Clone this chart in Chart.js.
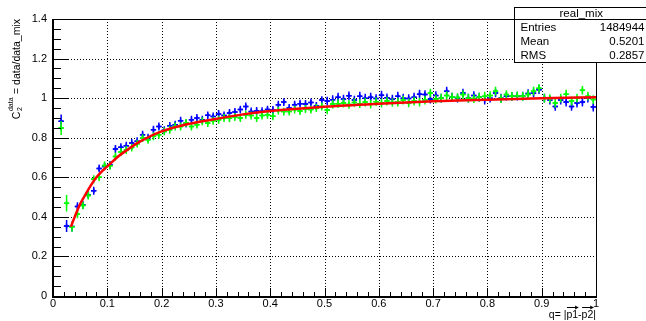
<!DOCTYPE html>
<html><head><meta charset="utf-8">
<script src="https://cdn.jsdelivr.net/npm/chart.js@4.4.1/dist/chart.umd.min.js"></script>
<style>html,body{margin:0;padding:0;background:#fff;overflow:hidden}canvas{display:block}</style>
</head><body><canvas id="c" width="646" height="321"></canvas>
<script>
// ---- data ----
const binCenters = [
  0.015,0.025,0.035,0.045,0.055,0.065,0.075,0.085,0.095,
  0.105,0.115,0.125,0.135,0.145,0.155,0.165,0.175,0.185,0.195,
  0.205,0.215,0.225,0.235,0.245,0.255,0.265,0.275,0.285,0.295,
  0.305,0.315,0.325,0.335,0.345,0.355,0.365,0.375,0.385,0.395,
  0.405,0.415,0.425,0.435,0.445,0.455,0.465,0.475,0.485,0.495,
  0.505,0.515,0.525,0.535,0.545,0.555,0.565,0.575,0.585,0.595,
  0.605,0.615,0.625,0.635,0.645,0.655,0.665,0.675,0.685,0.695,
  0.705,0.715,0.725,0.735,0.745,0.755,0.765,0.775,0.785,0.795,
  0.805,0.815,0.825,0.835,0.845,0.855,0.865,0.875,0.885,0.895,
  0.905,0.915,0.925,0.935,0.945,0.955,0.965,0.975,0.985,0.995];
const blueValues = [
  0.883,0.354,0.351,0.452,0.460,0.510,0.532,0.645,0.655,
  0.662,0.743,0.752,0.760,0.773,0.782,0.815,0.800,0.840,0.857,
  0.838,0.860,0.866,0.886,0.872,0.891,0.900,0.891,0.913,0.907,
  0.920,0.912,0.925,0.930,0.942,0.958,0.933,0.935,0.934,0.942,
  0.940,0.967,0.980,0.950,0.967,0.972,0.970,0.978,0.960,0.990,
  0.985,0.992,1.005,0.995,1.012,0.990,1.010,1.000,1.005,0.998,
  1.015,1.002,0.995,1.010,1.000,0.998,1.005,1.020,1.018,0.995,
  1.013,1.000,1.035,1.005,1.000,1.026,1.000,1.013,1.005,0.990,
  1.000,1.026,1.000,1.010,1.009,1.010,1.010,1.023,1.025,1.043,
  1.000,0.990,0.958,0.990,0.980,0.958,0.975,0.980,1.000,0.955];
const greenValues = [
  0.849,0.469,0.350,0.415,0.458,0.508,0.590,0.600,0.660,
  0.658,0.705,0.728,0.738,0.750,0.770,0.798,0.790,0.807,0.815,
  0.832,0.840,0.857,0.857,0.874,0.857,0.866,0.883,0.874,0.886,
  0.891,0.900,0.898,0.905,0.900,0.916,0.912,0.900,0.912,0.916,
  0.908,0.937,0.932,0.932,0.942,0.935,0.945,0.942,0.950,0.958,
  0.940,0.970,0.972,0.975,0.968,0.978,0.972,0.980,0.970,0.982,
  0.975,0.985,0.978,0.980,0.990,0.976,0.985,0.980,0.990,1.026,
  0.995,1.000,1.013,1.005,1.003,1.018,1.000,0.998,1.005,1.010,
  1.013,1.035,0.998,1.018,1.009,1.012,1.009,1.018,1.035,1.050,
  1.000,0.998,0.975,1.000,1.020,0.985,1.000,1.040,1.010,0.993];
const blueErrors = [
  0.034,0.030,0.025,0.022,0.020,0.020,0.020,0.020,0.020,
  0.020,0.020,0.020,0.020,0.020,0.020,0.020,0.020,0.020,0.020,
  0.020,0.020,0.020,0.020,0.020,0.020,0.020,0.020,0.020,0.020,
  0.020,0.020,0.020,0.020,0.020,0.020,0.020,0.020,0.020,0.020,
  0.020,0.020,0.020,0.020,0.020,0.020,0.020,0.020,0.020,0.020,
  0.022,0.022,0.022,0.022,0.022,0.022,0.022,0.022,0.022,0.022,
  0.022,0.022,0.022,0.022,0.022,0.022,0.022,0.022,0.022,0.022,
  0.022,0.022,0.022,0.022,0.022,0.022,0.022,0.022,0.022,0.022,
  0.022,0.022,0.022,0.022,0.022,0.022,0.022,0.022,0.022,0.022,
  0.022,0.022,0.022,0.022,0.022,0.022,0.022,0.022,0.022,0.022];
const greenErrors = [
  0.035,0.042,0.025,0.022,0.020,0.020,0.020,0.020,0.020,
  0.020,0.020,0.020,0.020,0.020,0.020,0.020,0.020,0.020,0.020,
  0.020,0.020,0.020,0.020,0.020,0.020,0.020,0.020,0.020,0.020,
  0.020,0.020,0.020,0.020,0.020,0.020,0.020,0.020,0.020,0.020,
  0.020,0.020,0.020,0.020,0.020,0.020,0.020,0.020,0.020,0.020,
  0.022,0.022,0.022,0.022,0.022,0.022,0.022,0.022,0.022,0.022,
  0.022,0.022,0.022,0.022,0.022,0.022,0.022,0.022,0.022,0.022,
  0.022,0.022,0.022,0.022,0.022,0.022,0.022,0.022,0.022,0.022,
  0.022,0.022,0.022,0.022,0.022,0.022,0.022,0.022,0.022,0.022,
  0.022,0.022,0.022,0.022,0.022,0.022,0.022,0.022,0.022,0.022];
const binHalfWidth = 0.005;
const fitQ   = [0.033,0.04,0.05,0.056,0.07,0.08,0.093,0.1,0.12,0.14,0.16,0.2,0.25,0.3,0.35,0.4,0.5,0.6,0.7,0.8,0.9,1.0];
const fitVal = [0.35,0.40,0.465,0.495,0.56,0.60,0.638,0.655,0.705,0.745,0.78,0.832,0.87,0.895,0.918,0.935,0.957,0.972,0.984,0.992,0.999,1.005];
const xTickValues = [0,0.1,0.2,0.3,0.4,0.5,0.6,0.7,0.8,0.9,1];
const xTickLabels = ['0','0.1','0.2','0.3','0.4','0.5','0.6','0.7','0.8','0.9','1'];
const yTickValues = [0,0.2,0.4,0.6,0.8,1.0,1.2,1.4];
const yTickLabels = ['0','0.2','0.4','0.6','0.8','1','1.2','1.4'];
const statsTitle = 'real_mix';
const statsRows = [['Entries','1484944'],['Mean','0.5201'],['RMS','0.2857']];

const FONT = '"Liberation Sans", Arial, Helvetica, sans-serif';

const rootPlugin = {
  id: 'rootStyle',
  beforeDatasetsDraw(chart) {
    const {ctx, chartArea: a, scales: {x, y}} = chart;
    ctx.save();
    ctx.strokeStyle = '#000';
    ctx.lineWidth = 1;
    ctx.setLineDash([1, 2]);
    xTickValues.forEach(v => {
      if (v <= x.min || v >= x.max) return;
      const px = Math.round(x.getPixelForValue(v)) + 0.5;
      ctx.beginPath(); ctx.moveTo(px, a.top); ctx.lineTo(px, a.bottom); ctx.stroke();
    });
    yTickValues.forEach(v => {
      if (v <= y.min || v >= y.max) return;
      const py = Math.round(y.getPixelForValue(v)) + 0.5;
      ctx.beginPath(); ctx.moveTo(a.left, py); ctx.lineTo(a.right, py); ctx.stroke();
    });
    ctx.restore();
  },
  afterDatasetDraw(chart, args) {
    const ds = chart.data.datasets[args.index];
    if (!ds.errors) return;
    const {ctx, chartArea: a, scales: {x, y}} = chart;
    ctx.save();
    ctx.beginPath(); ctx.rect(a.left, a.top, a.right - a.left, a.bottom - a.top); ctx.clip();
    ctx.strokeStyle = ds.borderColor;
    ctx.lineWidth = 1.5;
    ds.data.forEach((p, i) => {
      const e = ds.errors[i];
      const px = x.getPixelForValue(p.x), py = y.getPixelForValue(p.y);
      ctx.beginPath();
      ctx.moveTo(px, y.getPixelForValue(p.y - e)); ctx.lineTo(px, y.getPixelForValue(p.y + e));
      ctx.moveTo(x.getPixelForValue(p.x - binHalfWidth), py); ctx.lineTo(x.getPixelForValue(p.x + binHalfWidth), py);
      ctx.stroke();
    });
    ctx.restore();
  },
  afterDatasetsDraw(chart) {
    const {ctx, chartArea: a, scales: {x, y}} = chart;
    ctx.save();
    ctx.strokeStyle = '#000';
    // frame
    ctx.lineWidth = 1;
    ctx.strokeRect(a.left + 0.5, a.top + 0.5, a.right - a.left, a.bottom - a.top);
    ctx.lineWidth = 2;
    ctx.beginPath();
    ctx.moveTo(a.left, a.top); ctx.lineTo(a.left, a.bottom + 1); ctx.lineTo(a.right + 1, a.bottom + 1);
    ctx.stroke();
    // ticks
    ctx.lineWidth = 1;
    ctx.beginPath();
    for (let v = 0; v <= 1.0001; v += 0.02) {
      const px = Math.round(x.getPixelForValue(v)) + 0.5;
      const major = Math.abs(v * 10 - Math.round(v * 10)) < 1e-6;
      const len = major ? 8 : 4;
      ctx.moveTo(px, a.bottom); ctx.lineTo(px, a.bottom - len);
    }
    for (let v = 0; v <= 1.4001; v += 0.05) {
      const py = Math.round(y.getPixelForValue(v)) + 0.5;
      const major = Math.abs(v * 5 - Math.round(v * 5)) < 1e-6;
      const len = major ? 16 : 8;
      ctx.moveTo(a.left, py); ctx.lineTo(a.left + len, py);
    }
    ctx.stroke();
    // tick labels
    ctx.fillStyle = '#000';
    ctx.font = '11px ' + FONT;
    ctx.textAlign = 'right'; ctx.textBaseline = 'middle';
    yTickValues.forEach((v, i) => ctx.fillText(yTickLabels[i], a.left - 6, y.getPixelForValue(v)));
    ctx.textAlign = 'center';
    xTickValues.forEach((v, i) => ctx.fillText(xTickLabels[i], x.getPixelForValue(v), a.bottom + 8));

    // x title: q= |p1-p2| with arrows
    ctx.font = '10.5px ' + FONT;
    ctx.textAlign = 'left'; ctx.textBaseline = 'alphabetic';
    const parts = ['q= |', 'p1', '-', 'p2', '|'];
    const widths = parts.map(s => ctx.measureText(s).width);
    let cx = a.right - widths.reduce((s, w) => s + w, 0);
    const base = 318;
    parts.forEach((s, i) => {
      ctx.fillText(s, cx, base);
      if (s === 'p1' || s === 'p2') {
        const ay = base - 10.5;
        ctx.beginPath(); ctx.moveTo(cx + 0.5, ay); ctx.lineTo(cx + widths[i], ay); ctx.stroke();
        ctx.beginPath(); ctx.moveTo(cx + widths[i] + 0.5, ay); ctx.lineTo(cx + widths[i] - 3, ay - 2); ctx.lineTo(cx + widths[i] - 3, ay + 2); ctx.closePath(); ctx.fill();
      }
      cx += widths[i];
    });

    // y title: C_2^data = data/data_mix (rotated, right-aligned to top)
    ctx.save();
    ctx.translate(19.5, a.top);
    ctx.rotate(-Math.PI / 2);
    ctx.textBaseline = 'alphabetic';
    const mainF = '10.5px ' + FONT, smallF = '7px ' + FONT;
    ctx.font = mainF; const wC = ctx.measureText('C').width; const wRest = ctx.measureText(' = data/data_mix').width;
    ctx.font = smallF; const wSup = ctx.measureText('data').width; const wSub = ctx.measureText('2').width;
    const total = wC + Math.max(wSup, wSub) + 1 + wRest;
    let tx = -total;
    ctx.font = mainF; ctx.fillText('C', tx, 0); tx += wC + 0.5;
    ctx.font = smallF; ctx.fillText('data', tx, -6.5); ctx.fillText('2', tx, 2.5);
    tx += Math.max(wSup, wSub) + 0.5;
    ctx.font = mainF; ctx.fillText(' = data/data_mix', tx, 0);
    ctx.restore();
    ctx.restore();
  },
  afterDraw(chart) {
    const {ctx} = chart;
    ctx.save();
    const L = 514.5, T = 7.5, R = 646, B = 62.5;
    ctx.fillStyle = '#fff';
    ctx.fillRect(L, T, R - L, B - T);
    ctx.strokeStyle = '#000'; ctx.lineWidth = 1;
    ctx.strokeRect(L, T, R - L + 2, B - T);
    ctx.beginPath(); ctx.moveTo(L, 19.5); ctx.lineTo(R, 19.5); ctx.stroke();
    ctx.fillStyle = '#000';
    ctx.font = '11.5px ' + FONT;
    ctx.textBaseline = 'middle';
    ctx.textAlign = 'center';
    ctx.fillText(statsTitle, (L + R) / 2 + 1, 13.5);
    const rowsY = [28, 42, 55.5];
    statsRows.forEach((r, i) => {
      ctx.textAlign = 'left'; ctx.fillText(r[0], L + 6, rowsY[i]);
      ctx.textAlign = 'right'; ctx.fillText(r[1], 644.5, rowsY[i]);
    });
    ctx.restore();
  }
};

const toPts = (xs, ys) => xs.map((q, i) => ({x: q, y: ys[i]}));

new Chart(document.getElementById('c'), {
  type: 'scatter',
  data: {
    datasets: [
      { type: 'line', label: 'fit', data: toPts(fitQ, fitVal), borderColor: '#ff0000', borderWidth: 2.5,
        pointRadius: 0, fill: false, cubicInterpolationMode: 'monotone', order: 0 },
      { label: 'green', data: toPts(binCenters, greenValues), errors: greenErrors, pointStyle: 'cross',
        pointRadius: 2.5, borderWidth: 1.5, borderColor: '#00ff00', backgroundColor: '#00ff00', order: 1 },
      { label: 'blue', data: toPts(binCenters, blueValues), errors: blueErrors, pointStyle: 'cross',
        pointRadius: 2.5, borderWidth: 1.5, borderColor: '#0000ff', backgroundColor: '#0000ff', order: 2 }
    ]
  },
  options: {
    responsive: false, animation: false, devicePixelRatio: 1,
    layout: { padding: { left: 53, right: 50, top: 19, bottom: 25 } },
    plugins: { legend: { display: false }, tooltip: { enabled: false } },
    scales: {
      x: { type: 'linear', min: 0, max: 1, display: false },
      y: { type: 'linear', min: 0, max: 1.4, display: false }
    }
  },
  plugins: [rootPlugin]
});
</script>
</body></html>
